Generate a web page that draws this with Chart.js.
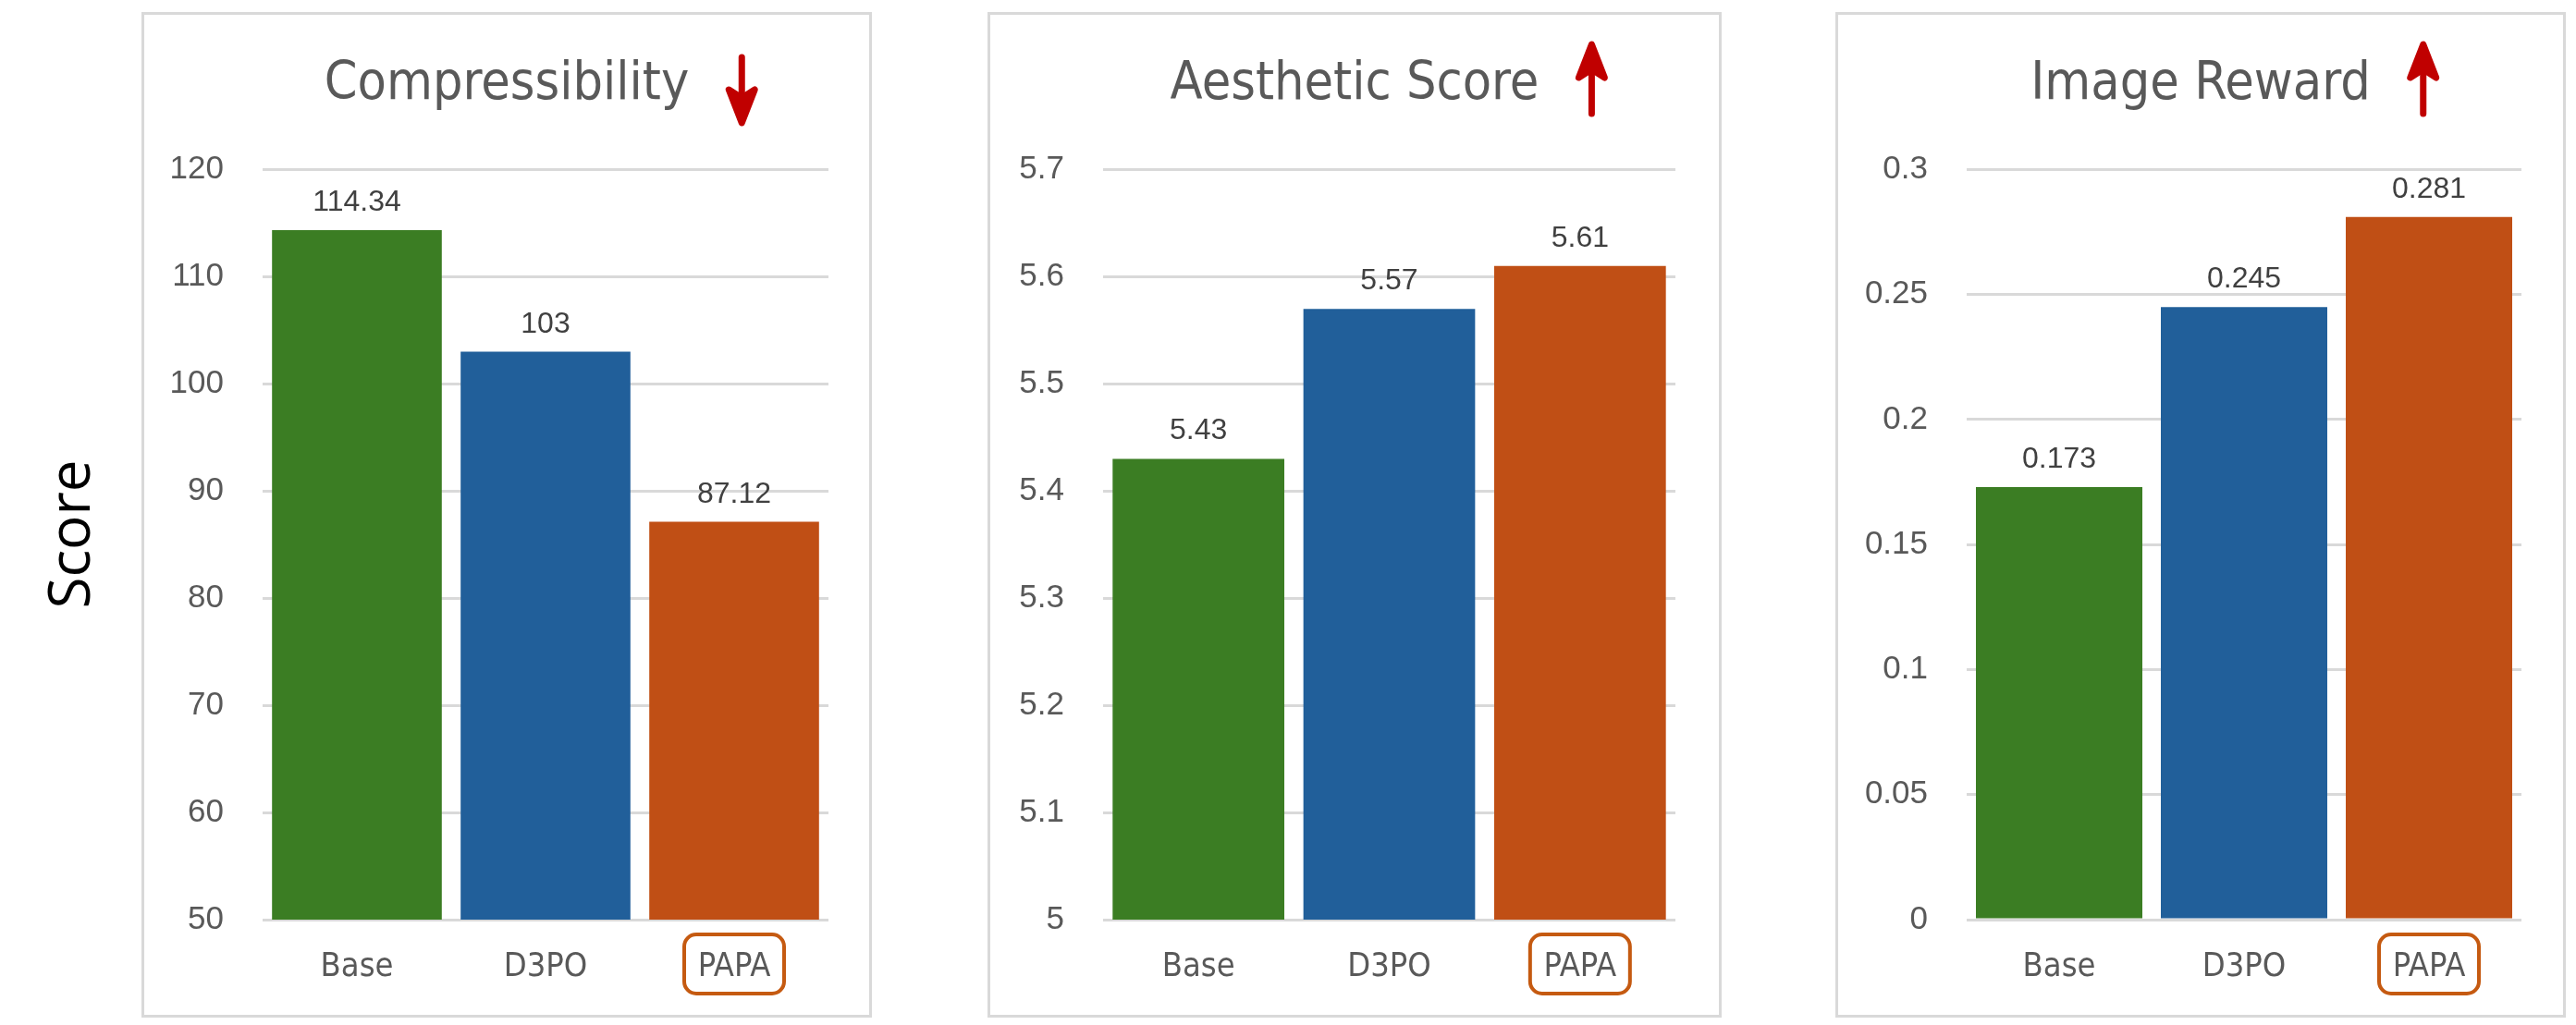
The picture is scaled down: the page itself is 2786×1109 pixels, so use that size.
<!DOCTYPE html>
<html>
<head>
<meta charset="utf-8">
<script src="https://cdn.jsdelivr.net/npm/chart.js@4.4.1/dist/chart.umd.min.js"></script>
<style>
  html, body { margin: 0; padding: 0; background: #fff; }
  body { width: 2786px; height: 1109px; position: relative; overflow: hidden; }
  .panel { position: absolute; top: 13px; height: 1088px; box-sizing: border-box;
           border: 3px solid #d9d9d9; background: #fff; }
  .panel canvas { display: block; }
  #score { position: absolute; left: 73px; top: 578px; white-space: nowrap;
           transform: translate(-50%, -50%) rotate(-90deg);
           font: 62px 'Open Sans', 'Noto Sans', sans-serif; color: #000; }
</style>
</head>
<body>
<div id="score">Score</div>
<div class="panel" style="left:153px;width:790px"><canvas id="c1" width="784" height="1082"></canvas></div>
<div class="panel" style="left:1068px;width:794px"><canvas id="c2" width="788" height="1082"></canvas></div>
<div class="panel" style="left:1985px;width:790px"><canvas id="c3" width="784" height="1082"></canvas></div>
<script>
/* data */
const methods      = ['Base', 'D3PO', 'PAPA'];
const barColors    = ['#3B7D23', '#215F9A', '#C04F15'];

const compressVals = [114.34, 103, 87.12];
const compressTicks = ['50', '60', '70', '80', '90', '100', '110', '120'];

const aestheticVals = [5.43, 5.57, 5.61];
const aestheticTicks = ['5', '5.1', '5.2', '5.3', '5.4', '5.5', '5.6', '5.7'];

const rewardVals   = [0.173, 0.245, 0.281];
const rewardTicks  = ['0', '0.05', '0.1', '0.15', '0.2', '0.25', '0.3'];

const NARROW     = "'DejaVu Sans Condensed', 'Liberation Sans', sans-serif";
const TITLE_FONT = { family: NARROW, size: 57 };
const TEXT_GREY  = '#595959';
const GRID_GREY  = '#d9d9d9';

/* numbers above the bars */
const valueLabels = {
  id: 'valueLabels',
  afterDatasetsDraw(chart) {
    const ctx = chart.ctx;
    const ds = chart.data.datasets[0];
    ctx.save();
    ctx.font = "32px 'Liberation Sans', Arial, sans-serif";
    ctx.fillStyle = '#404040';
    ctx.textAlign = 'center';
    ctx.textBaseline = 'alphabetic';
    chart.getDatasetMeta(0).data.forEach((bar, i) => {
      ctx.fillText(String(ds.data[i]), bar.x, bar.y - 21);
    });
    ctx.restore();
  }
};

/* red up/down arrow next to the title */
const trendArrow = {
  id: 'trendArrow',
  afterDraw(chart, args, opts) {
    const t = chart.titleBlock;
    const ctx = chart.ctx;
    ctx.save();
    ctx.font = TITLE_FONT.size + 'px ' + TITLE_FONT.family;
    const w = ctx.measureText(chart.options.plugins.title.text).width;
    const x = (t.left + t.right) / 2 + w / 2 + 57;
    const down = opts.dir === 'down';
    const y0 = down ? 46 : 107;   /* tail */
    const y1 = down ? 117 : 32;   /* tip */
    const s = down ? -1 : 1;
    ctx.strokeStyle = ctx.fillStyle = '#C00000';
    ctx.lineWidth = 7;
    ctx.lineCap = 'round';
    ctx.lineJoin = 'round';
    ctx.beginPath();
    ctx.moveTo(x, y0);
    ctx.lineTo(x, y1 + s * 22);
    ctx.stroke();
    ctx.beginPath();
    ctx.moveTo(x, y1);
    ctx.lineTo(x - 14, y1 + s * 36);
    ctx.lineTo(x, y1 + s * 27);
    ctx.lineTo(x + 14, y1 + s * 36);
    ctx.closePath();
    ctx.fill();
    ctx.stroke();
    ctx.restore();
  }
};

/* rounded box around the highlighted category label */
const highlightBox = {
  id: 'highlightBox',
  afterDraw(chart, args, opts) {
    const idx = chart.data.labels.indexOf(opts.label);
    if (idx < 0) return;
    const ctx = chart.ctx;
    const cx = chart.scales.x.getPixelForValue(idx);
    const cy = chart.chartArea.bottom + 48;
    ctx.save();
    ctx.strokeStyle = '#C55A11';
    ctx.lineWidth = 4;
    ctx.beginPath();
    ctx.roundRect(cx - 54, cy - 32, 108, 64, 13);
    ctx.stroke();
    ctx.restore();
  }
};

function makeChart(id, title, dir, values, ticks, min, max, step, axisW, padRight) {
  new Chart(document.getElementById(id), {
    type: 'bar',
    data: {
      labels: methods,
      datasets: [{
        data: values,
        backgroundColor: barColors,
        borderWidth: 0,
        barPercentage: 0.9,
        categoryPercentage: 1.0,
      }],
    },
    options: {
      responsive: false,
      animation: false,
      layout: { padding: 0 },
      scales: {
        x: {
          grid: { display: false, drawTicks: false },
          border: { display: false },
          ticks: { color: TEXT_GREY, padding: 30,
                   font: { family: NARROW, size: 36 } },
          afterFit: (s) => { s.height = 103; },
        },
        y: {
          min: min, max: max,
          grid: { color: GRID_GREY, lineWidth: 3, drawTicks: false },
          border: { display: false },
          ticks: {
            stepSize: step,
            color: TEXT_GREY,
            padding: 42,
            font: { family: "'Liberation Sans', Arial, sans-serif", size: 35 },
            callback: (v, i) => ticks[i],
          },
          afterFit: (s) => { s.width = axisW; },
        },
        /* empty right-hand spacer so the title stays centred on the panel */
        spacer: {
          type: 'linear',
          position: 'right',
          grid: { display: false, drawTicks: false },
          border: { display: false },
          ticks: { display: false },
          afterFit: (s) => { s.width = padRight; },
        },
      },
      plugins: {
        legend: { display: false },
        tooltip: { enabled: false },
        title: {
          display: true,
          text: title,
          color: TEXT_GREY,
          font: { family: TITLE_FONT.family, size: TITLE_FONT.size, weight: 'normal' },
          padding: { top: 42, bottom: 57 },
        },
        trendArrow: { dir: dir },
        highlightBox: { label: 'PAPA' },
      },
    },
    plugins: [valueLabels, trendArrow, highlightBox],
  });
}

makeChart('c1', 'Compressibility', 'down', compressVals, compressTicks, 50, 120, 10, 128, 44);
makeChart('c2', 'Aesthetic Score', 'up', aestheticVals, aestheticTicks, 5, 5.7, 0.1, 122, 47);
makeChart('c3', 'Image Reward', 'up', rewardVals, rewardTicks, 0, 0.3, 0.05, 139, 45);
</script>
</body>
</html>
